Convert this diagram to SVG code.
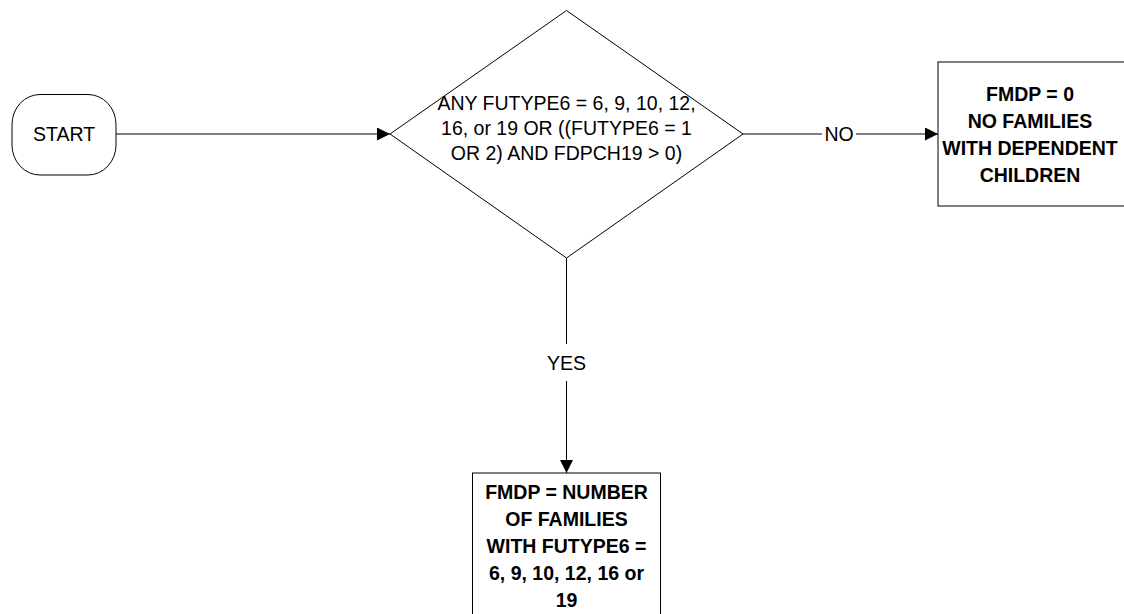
<svg xmlns="http://www.w3.org/2000/svg" width="1124" height="614" viewBox="0 0 1124 614">
<defs>
<marker id="arrow" viewBox="0 0 13 13" refX="13" refY="6.5" markerWidth="13" markerHeight="13" markerUnits="userSpaceOnUse" orient="auto">
<path d="M0,0 L13,6.5 L0,13 Z" fill="#000"/>
</marker>
<style>
.shape{fill:#fff;stroke:#000;stroke-width:1}
.edge{fill:none;stroke:#000;stroke-width:1}
.t{font-family:"Liberation Sans",Arial,sans-serif;font-size:19.5px;fill:#000;text-anchor:middle}
.b{font-family:"Liberation Sans",Arial,sans-serif;font-size:19.5px;font-weight:bold;fill:#000;text-anchor:middle}
</style>
</defs>
<rect width="1124" height="614" fill="#fff"/>
<g id="connectors">
<line class="edge" x1="116" y1="134" x2="390" y2="134" marker-end="url(#arrow)"/>
<line class="edge" x1="743" y1="134" x2="822" y2="134"/>
<line class="edge" x1="856" y1="134" x2="938" y2="134" marker-end="url(#arrow)"/>
<text class="t" x="839" y="141">NO</text>
<line class="edge" x1="566.5" y1="258" x2="566.5" y2="344"/>
<line class="edge" x1="566.5" y1="381" x2="566.5" y2="473" marker-end="url(#arrow)"/>
<text class="t" x="566.5" y="370">YES</text>
</g>
<g id="start">
<rect class="shape" x="12" y="94.5" width="104" height="80.5" rx="28" ry="30"/>
<text class="t" x="64" y="141">START</text>
</g>
<g id="decision">
<polygon class="shape" points="566.5,10.5 743,134 566.5,258 390,134"/>
<text class="t" x="566.5" y="110">ANY FUTYPE6 = 6, 9, 10, 12,</text>
<text class="t" x="566.5" y="135">16, or 19 OR ((FUTYPE6 = 1</text>
<text class="t" x="566.5" y="160">OR 2) AND FDPCH19 &gt; 0)</text>
</g>
<g id="no-box">
<rect class="shape" x="938" y="62" width="200" height="144"/>
<text class="b" x="1030" y="101">FMDP = 0</text>
<text class="b" x="1030" y="128">NO FAMILIES</text>
<text class="b" x="1030" y="155">WITH DEPENDENT</text>
<text class="b" x="1030" y="182">CHILDREN</text>
</g>
<g id="yes-box">
<rect class="shape" x="472.5" y="473" width="188" height="150"/>
<text class="b" x="566.5" y="499">FMDP = NUMBER</text>
<text class="b" x="566.5" y="526">OF FAMILIES</text>
<text class="b" x="566.5" y="553">WITH FUTYPE6 =</text>
<text class="b" x="566.5" y="580">6, 9, 10, 12, 16 or</text>
<text class="b" x="566.5" y="607">19</text>
</g>
</svg>
